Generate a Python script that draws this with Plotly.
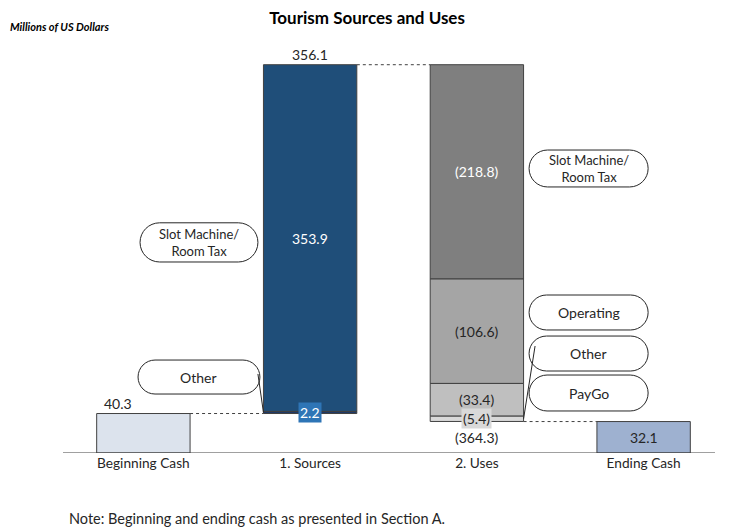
#Tourism sources and uses waterfall, rebuilt with plotly
import plotly.graph_objects as go

#Font for the figure
family_font = 'Lato'

################################# data #################################
categories = ['Beginning Cash', '1. Sources', '2. Uses', 'Ending Cash']
beginning_cash = 40.3
sources_names = ['Other', 'Slot Machine/<br>Room Tax']
sources_values = [2.2, 353.9]
sources_total = 356.1
uses_names = ['Slot Machine/<br>Room Tax', 'Operating', 'PayGo', 'Other']
uses_values = [218.8, 106.6, 33.4, 5.4]
uses_total = 364.3
ending_cash = 32.1

sources_colors = ['#1f3864', '#1f4e79']
uses_colors = ['#7f7f7f', '#a5a5a5', '#bfbfbf', '#d9d9d9']
uses_text_colors = ['white', '#262626', '#262626', '#262626']

#geometry of the plot area, used to keep the pills round
Y_MAX = 440
PLOT_W = 667
PLOT_H = 431
PX_X = PLOT_W / 4.0
PX_Y = PLOT_H / Y_MAX
BAR_W = 0.56
half = BAR_W / 2
line_col = '#404040'
txt_col = '#262626'
fs = 14

fig = go.Figure()

def add_bar(x, base, value, color):
    fig.add_trace(go.Bar(x=[x], y=[value], base=[base], width=BAR_W,
                         marker=dict(color=color, line=dict(color=line_col, width=1)),
                         showlegend=False, hoverinfo='skip'))

################################# bars #################################
add_bar(0, 0, beginning_cash, '#dce3ed')

b = beginning_cash
src_mid = []
for v, c in zip(sources_values, sources_colors):
    add_bar(1, b, v, c)
    src_mid.append(b + v / 2)
    b += v
top = b

b = top
use_mid = []
for v, c in zip(uses_values, uses_colors):
    add_bar(2, b - v, v, c)
    use_mid.append(b - v / 2)
    b -= v
use_bottom = b

add_bar(3, 0, ending_cash, '#9eb1d0')

################################# connectors #################################
shapes = []
def dotted(x0, y0, x1, y1):
    shapes.append(dict(type='line', xref='x', yref='y', x0=x0, y0=y0, x1=x1, y1=y1,
                       line=dict(color=line_col, width=1, dash='dot')))

dotted(0 + half, beginning_cash, 1 - half, beginning_cash)
dotted(1 + half, top, 2 - half, top)
dotted(2 + half, ending_cash, 3 - half, ending_cash)

#x axis line
shapes.append(dict(type='line', xref='paper', yref='y', x0=0.0045, x1=0.982, y0=0, y1=0,
                   line=dict(color=line_col, width=1)))

################################# callout pills #################################
annotations = []
def pill(x0, x1, y0, y1, text):
    r = (y1 - y0) * PX_Y / 2
    rx = r / PX_X
    ry = r / PX_Y
    k = 0.5523
    p = (f'M {x0+rx},{y1} L {x1-rx},{y1} '
         f'C {x1-rx+k*rx},{y1} {x1},{y1-ry+k*ry} {x1},{y1-ry} '
         f'L {x1},{y0+ry} '
         f'C {x1},{y0+ry-k*ry} {x1-rx+k*rx},{y0} {x1-rx},{y0} '
         f'L {x0+rx},{y0} '
         f'C {x0+rx-k*rx},{y0} {x0},{y0+ry-k*ry} {x0},{y0+ry} '
         f'L {x0},{y1-ry} '
         f'C {x0},{y1-ry+k*ry} {x0+rx-k*rx},{y1} {x0+rx},{y1} Z')
    shapes.append(dict(type='path', xref='x', yref='y', path=p, fillcolor='white',
                       line=dict(color='#262626', width=1)))
    size = fs if '<br>' not in text else 13
    annotations.append(dict(x=(x0 + x1) / 2, y=(y0 + y1) / 2, xref='x', yref='y', text=text,
                            showarrow=False, font=dict(size=size, color=txt_col)))

pill(-0.02, 0.687, 195, 235, sources_names[1])
pill(-0.032, 0.699, 60.2, 94.9, sources_names[0])
pill(2.313, 3.027, 271.6, 309.3, uses_names[0])
pill(2.313, 3.027, 125.6, 161.3, uses_names[1])
pill(2.313, 3.027, 83.7, 119.4, uses_names[3])
pill(2.313, 3.027, 42.9, 79.6, uses_names[2])

#leader lines
shapes.append(dict(type='line', xref='x', yref='y', x0=0.687, y0=80.7, x1=1 - half, y1=src_mid[0],
                   line=dict(color='#262626', width=1)))
shapes.append(dict(type='line', xref='x', yref='y', x0=2.349, y0=109.2, x1=2 + half, y1=use_mid[3],
                   line=dict(color='#262626', width=1)))

################################# value labels #################################
def label(x, y, text, color=txt_col, bg=None, yanchor='middle', yshift=0):
    a = dict(x=x, y=y, xref='x', yref='y', text=text, showarrow=False, yanchor=yanchor,
             yshift=yshift, font=dict(size=fs, color=color))
    if bg:
        a.update(bgcolor=bg, borderpad=1)
    annotations.append(a)

label(-0.152, beginning_cash, f'{beginning_cash:.1f}', yanchor='bottom', yshift=0)
label(1, top, f'{sources_total:.1f}', yanchor='bottom', yshift=0)
label(1, src_mid[1], f'{sources_values[1]:.1f}', color='white')
label(1, src_mid[0], f'{sources_values[0]:.1f}', color='white', bg='#2e75b6')
for v, m, c in zip(uses_values, use_mid, uses_text_colors):
    if v < 10:
        label(2, m, f'({v:.1f})', color=c, bg='#d9d9d9')
    else:
        label(2, m, f'({v:.1f})', color=c)
label(2, use_bottom, f'({uses_total:.1f})', yanchor='top', yshift=-6)
label(3, ending_cash / 2, f'{ending_cash:.1f}')

annotations.append(dict(x=-0.078, y=0.9907, xref='paper', yref='paper', xanchor='left',
                        yanchor='middle', text='<b><i>Millions of US Dollars</i></b>',
                        showarrow=False, font=dict(size=11, color='black')))
annotations.append(dict(x=0.0105, y=-0.151, xref='paper', yref='paper', xanchor='left',
                        yanchor='middle',
                        text='Note: Beginning and ending cash as presented in Section A.',
                        showarrow=False, font=dict(size=14.5, color=txt_col)))

#page body adds 8px, so the figure is 8px smaller and the margins shifted
fig.update_layout(
    width=721, height=519,
    barmode='overlay',
    plot_bgcolor='white', paper_bgcolor='white',
    margin=dict(l=52, r=2, t=14, b=74),
    font=dict(family=family_font, color=txt_col),
    title=dict(text='<b>Tourism Sources and Uses</b>', x=0.498, xanchor='center',
               y=0.9808, yanchor='middle', font=dict(size=17, color='black')),
    xaxis=dict(range=[-0.5, 3.5], tickvals=[0, 1, 2, 3], ticktext=categories,
               showgrid=False, zeroline=False, showline=False, ticks='',
               tickfont=dict(size=13.7, color=txt_col)),
    yaxis=dict(range=[0, Y_MAX], visible=False, showgrid=False, zeroline=False),
    shapes=shapes,
    annotations=annotations,
)

fig.write_html("out.html")
